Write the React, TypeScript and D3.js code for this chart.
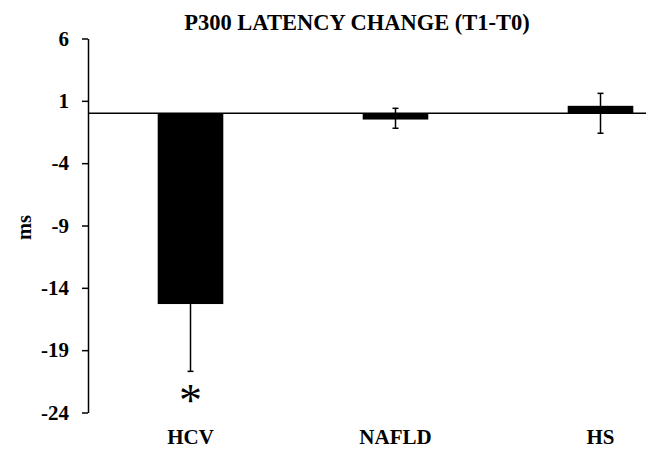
import * as d3 from "d3";
import { useEffect, useRef } from "react";

const categories = ["HCV", "NAFLD", "HS"];
const values = [-15.3, -0.5, 0.6];
const errUp = [0, 0.9, 1.0];
const errDown = [5.4, 0.7, 2.2];
const significant = [true, false, false];
const yTicks = [6, 1, -4, -9, -14, -19, -24];

export default function App() {
  const ref = useRef<SVGSVGElement | null>(null);

  useEffect(() => {
    if (!ref.current) return;
    const svg = d3.select(ref.current);
    svg.selectAll("*").remove();

    const width = 648;
    const height = 449;
    const font = "'Liberation Serif', 'Times New Roman', serif";

    // plot area (the right side of the original figure is cut off)
    const x = d3
      .scaleBand()
      .domain(categories)
      .range([88, 703])
      .paddingInner(0.68)
      .paddingOuter(0.34);

    const y = d3.scaleLinear().domain([-24, 6]).range([412.5, 38.5]);

    const data = categories.map((c, i) => ({
      cat: c,
      value: values[i],
      up: errUp[i],
      down: errDown[i],
      sig: significant[i],
    }));

    // title
    svg
      .append("text")
      .attr("x", 357)
      .attr("y", 30)
      .attr("text-anchor", "middle")
      .style("font-family", font)
      .style("font-weight", "bold")
      .style("font-size", "22.5px")
      .text("P300 LATENCY CHANGE (T1-T0)");

    // y axis
    const yAxis = svg
      .append("g")
      .attr("transform", `translate(88,0)`)
      .call(
        d3
          .axisLeft(y)
          .tickValues(yTicks)
          .tickSize(6)
          .tickPadding(13)
          .tickSizeOuter(0)
          .tickFormat((d) => `${d}`)
      );
    yAxis.select(".domain").attr("stroke", "#000").attr("stroke-width", 1.5);
    yAxis.selectAll(".tick line").attr("stroke", "#000").attr("stroke-width", 1.5);
    yAxis
      .selectAll(".tick text")
      .attr("fill", "#000")
      .style("font-family", font)
      .style("font-weight", "bold")
      .style("font-size", "21px");

    // y label
    svg
      .append("text")
      .attr("transform", `translate(30.5,227.5) rotate(-90)`)
      .attr("text-anchor", "middle")
      .style("font-family", font)
      .style("font-weight", "bold")
      .style("font-size", "20.5px")
      .text("ms");

    // bars
    svg
      .selectAll(".bar")
      .data(data)
      .enter()
      .append("rect")
      .attr("class", "bar")
      .attr("x", (d) => x(d.cat)!)
      .attr("y", (d) => y(Math.max(0, d.value)))
      .attr("width", x.bandwidth())
      .attr("height", (d) => Math.abs(y(d.value) - y(0)))
      .attr("fill", "#000");

    // zero line
    svg
      .append("line")
      .attr("x1", 88)
      .attr("x2", 646)
      .attr("y1", y(0))
      .attr("y2", y(0))
      .attr("stroke", "#000")
      .attr("stroke-width", 1.5);

    // error bars
    const eb = svg
      .selectAll(".err")
      .data(data)
      .enter()
      .append("g")
      .attr("class", "err")
      .attr("stroke", "#000")
      .attr("stroke-width", 1.5);
    const cx = (d: any) => x(d.cat)! + x.bandwidth() / 2;
    eb.append("line")
      .attr("x1", cx)
      .attr("x2", cx)
      .attr("y1", (d) => y(d.value + d.up))
      .attr("y2", (d) => y(d.value - d.down));
    eb.append("line")
      .attr("x1", (d) => cx(d) - 3)
      .attr("x2", (d) => cx(d) + 3)
      .attr("y1", (d) => y(d.value - d.down))
      .attr("y2", (d) => y(d.value - d.down));
    eb.filter((d) => d.up > 0)
      .append("line")
      .attr("x1", (d) => cx(d) - 3)
      .attr("x2", (d) => cx(d) + 3)
      .attr("y1", (d) => y(d.value + d.up))
      .attr("y2", (d) => y(d.value + d.up));

    // significance marker
    svg
      .selectAll(".sig")
      .data(data.filter((d) => d.sig))
      .enter()
      .append("text")
      .attr("class", "sig")
      .attr("x", cx)
      .attr("y", 416)
      .attr("text-anchor", "middle")
      .style("font-family", font)
      .style("font-size", "46px")
      .text("*");

    // category labels
    svg
      .selectAll(".cat")
      .data(data)
      .enter()
      .append("text")
      .attr("class", "cat")
      .attr("x", cx)
      .attr("y", 444)
      .attr("text-anchor", "middle")
      .style("font-family", font)
      .style("font-weight", "bold")
      .style("font-size", "21px")
      .text((d) => d.cat);

    svg.attr("width", width).attr("height", height);
  }, []);

  return (
    <svg
      ref={ref}
      width={648}
      height={449}
      style={{ position: "absolute", left: 0, top: 0, background: "#fff" }}
    />
  );
}
